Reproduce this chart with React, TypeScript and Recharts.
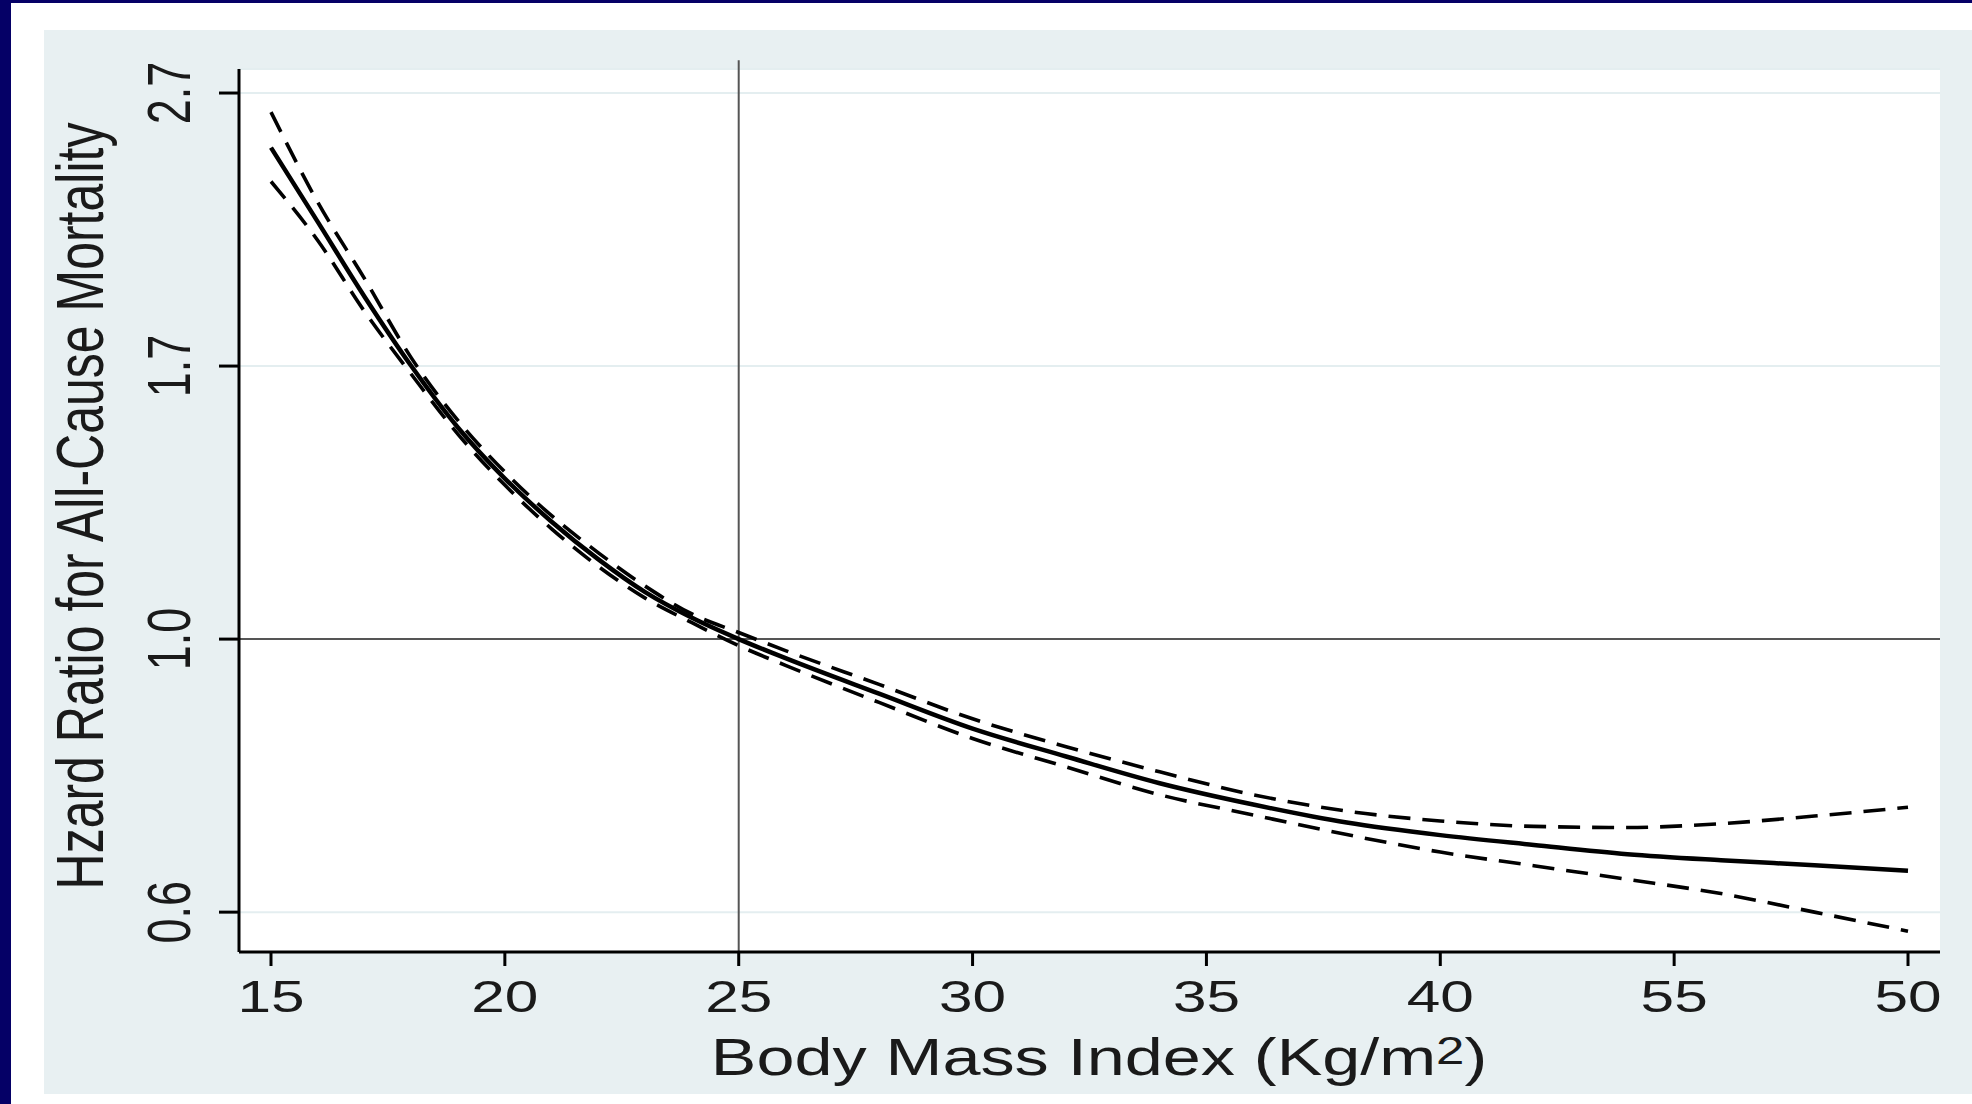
import React from "react";
import {
  LineChart,
  Line,
  XAxis,
  YAxis,
  CartesianGrid,
  ReferenceLine,
} from "recharts";

// BMI values and log hazard ratios
const bmi = [15, 16, 17, 18, 19, 20, 21, 22, 23, 24, 25, 26, 28, 30, 32, 34, 36, 38, 40, 42, 44, 46, 48, 50];
const logHr = [0.9, 0.764, 0.627, 0.5, 0.387, 0.294, 0.215, 0.146, 0.086, 0.039, 0, -0.035, -0.1, -0.164, -0.215, -0.264, -0.303, -0.336, -0.359, -0.377, -0.394, -0.405, -0.414, -0.424];
const logUpper = [0.965, 0.8, 0.66, 0.515, 0.4, 0.306, 0.226, 0.158, 0.097, 0.046, 0.012, -0.021, -0.083, -0.146, -0.197, -0.243, -0.285, -0.315, -0.333, -0.343, -0.345, -0.338, -0.324, -0.308];
const logLower = [0.838, 0.73, 0.6, 0.485, 0.375, 0.282, 0.202, 0.133, 0.075, 0.03, -0.012, -0.048, -0.116, -0.182, -0.234, -0.285, -0.322, -0.358, -0.39, -0.415, -0.44, -0.466, -0.5, -0.535];

const xTicks = [15, 20, 25, 30, 35, 40, 45, 50];
const xTickLabels = ["15", "20", "25", "30", "35", "40", "55", "50"];
const yTicks = [-0.5, 0, 0.5, 1];
const yTickLabels = ["0.6", "1.0", "1.7", "2.7"];

const data = bmi.map((b, i) => ({
  bmi: b,
  hr: logHr[i],
  upper: logUpper[i],
  lower: logLower[i],
}));

const FONT = "'Liberation Sans', Arial, Helvetica, sans-serif";
const STRETCH = 1.34;
const TEXT = "#1a1a1a";

const XTick = ({ x, y, index }: any) => (
  <text
    transform={`translate(${x},${y + 44}) scale(${STRETCH},1)`}
    textAnchor="middle"
    fontSize={45}
    fontFamily={FONT}
    fill={TEXT}
  >
    {xTickLabels[index]}
  </text>
);

const YTick = ({ x, y, index }: any) => (
  <text
    transform={`translate(${x - 29},${y}) scale(${STRETCH},1) rotate(-90)`}
    textAnchor="middle"
    fontSize={45}
    fontFamily={FONT}
    fill={TEXT}
  >
    {yTickLabels[index]}
  </text>
);

export default function App() {
  return (
    <div
      style={{
        position: "absolute",
        left: 0,
        top: 0,
        width: 1972,
        height: 1104,
        background: "#ffffff",
        overflow: "hidden",
      }}
    >
      <div style={{ position: "absolute", left: 0, top: 0, width: 1972, height: 3, background: "#050066" }} />
      <div style={{ position: "absolute", left: 0, top: 0, width: 11, height: 1104, background: "#050066" }} />
      <div
        style={{
          position: "absolute",
          left: 44,
          top: 30,
          width: 1928,
          height: 1064,
          background: "#e8f0f2",
        }}
      />
      <div style={{ position: "absolute", left: 0, top: 0 }}>
        <LineChart
          width={1972}
          height={1104}
          data={data}
          margin={{ top: 69, right: 32, bottom: 52, left: 139 }}
        >
          <CartesianGrid
            horizontal
            vertical={false}
            fill="#ffffff"
            stroke="#e4eef0"
            strokeWidth={2}
          />
          <XAxis
            dataKey="bmi"
            type="number"
            domain={[14.316, 50.684]}
            ticks={xTicks}
            interval={0}
            height={100}
            tickSize={14}
            tickMargin={2}
            tick={<XTick />}
            axisLine={{ stroke: "#000", strokeWidth: 3 }}
            tickLine={{ stroke: "#000", strokeWidth: 3 }}
          />
          <YAxis
            type="number"
            domain={[-0.573, 1.044]}
            ticks={yTicks}
            interval={0}
            width={100}
            tickSize={20}
            tickMargin={0}
            tick={<YTick />}
            axisLine={{ stroke: "#000", strokeWidth: 3 }}
            tickLine={{ stroke: "#000", strokeWidth: 3 }}
          />
          <ReferenceLine y={0} stroke="#555" strokeWidth={2} />
          <ReferenceLine
            segment={[
              { x: 25, y: -0.573 },
              { x: 25, y: 1.06 },
            ]}
            ifOverflow="visible"
            stroke="#555"
            strokeWidth={2}
          />
          <Line
            dataKey="upper"
            type="monotone"
            stroke="#000"
            strokeWidth={3.6}
            strokeDasharray="22 12"
            dot={false}
            activeDot={false}
            isAnimationActive={false}
          />
          <Line
            dataKey="lower"
            type="monotone"
            stroke="#000"
            strokeWidth={3.6}
            strokeDasharray="22 12"
            dot={false}
            activeDot={false}
            isAnimationActive={false}
          />
          <Line
            dataKey="hr"
            type="monotone"
            stroke="#000"
            strokeWidth={4.5}
            dot={false}
            activeDot={false}
            isAnimationActive={false}
          />
          <text
            transform={`translate(103,506) scale(${STRETCH},1) rotate(-90)`}
            textAnchor="middle"
            fontSize={50}
            fontFamily={FONT}
            fill={TEXT}
          >
            Hzard Ratio for All-Cause Mortality
          </text>
          <text
            transform={`translate(1099,1075) scale(${STRETCH},1)`}
            textAnchor="middle"
            fontSize={51}
            fontFamily={FONT}
            fill={TEXT}
          >
            Body Mass Index (Kg/m
            <tspan fontSize={38} dy={-11}>2</tspan>
            <tspan dy={11}>)</tspan>
          </text>
        </LineChart>
      </div>
    </div>
  );
}
